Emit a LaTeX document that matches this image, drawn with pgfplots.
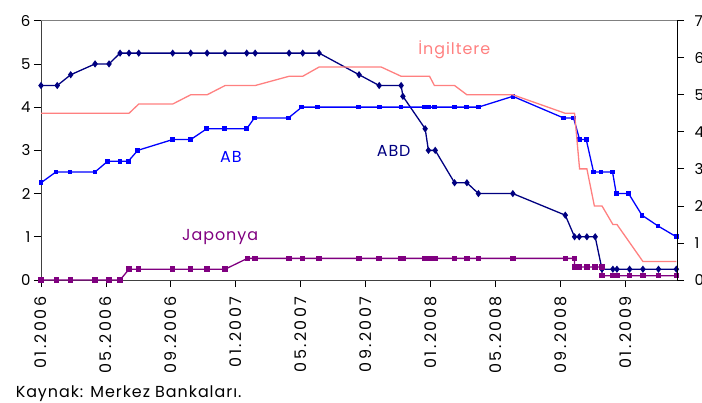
\documentclass[border=0pt]{standalone}
\usepackage{pgfplots}
\pgfplotsset{compat=1.18}
\usepackage{fontspec}
\setmainfont{Poppins}
\newfontfamily\widefont[LetterSpace=15]{Poppins}
\newfontfamily\labelfont[LetterSpace=6]{Poppins}

\definecolor{abd}{HTML}{000080}
\definecolor{ab}{HTML}{0000FF}
\definecolor{uk}{HTML}{FF8080}
\definecolor{jp}{HTML}{800080}

\pgfplotsset{
  ratestyle/.style={
    scale only axis, width=636bp, height=259.3bp,
    at={(0,0)}, anchor=south west,
    xmin=0, xmax=39.17,
    tick align=outside, major tick length=7bp,
    tick style={black, line width=0.8pt},
    axis line style={black!75, line width=0.8pt},
    /pgf/number format/assume math mode=true,
    tick label style={font=\fontsize{15}{18}\selectfont},
  },
}

\begin{document}
\begin{tikzpicture}
% left axis: ABD, AB, Japonya
\begin{axis}[ratestyle,
    axis x line*=bottom, axis y line*=left,
    ymin=0, ymax=6, ytick={0,1,...,6},
    xtick={0,4,8,12,16,20,24,28,32,36},
    xticklabels={01.2006,05.2006,09.2006,01.2007,05.2007,09.2007,01.2008,05.2008,09.2008,01.2009},
    xticklabel style={rotate=90, anchor=east, xshift=-6bp,
      font=\widefont\fontsize{16}{19}\selectfont},
    clip=false,
]
\draw[gray, line width=0.8pt] (rel axis cs:0,1) -- (rel axis cs:1,1);

% ABD
\addplot[abd, line width=1.3pt, mark=diamond*, mark size=2.6bp] coordinates {
(0,4.5)(1.00,4.5)(1.83,4.75)(3.33,5.0)(4.19,5.0)(4.87,5.25)(5.42,5.25)(6.02,5.25)
(8.11,5.25)(9.22,5.25)(10.23,5.25)(11.34,5.25)(12.67,5.25)(13.19,5.25)(15.28,5.25)
(16.12,5.25)(17.13,5.25)(19.59,4.75)(20.83,4.5)(22.18,4.5)(22.29,4.25)(23.66,3.5)
(23.86,3.0)(24.28,3.0)(25.47,2.25)(26.23,2.25)(26.94,2.0)(29.06,2.0)(32.29,1.5)
(32.86,1.0)(33.15,1.0)(33.62,1.0)(34.13,1.0)(34.55,0.25)(35.22,0.25)(35.47,0.25)
(36.25,0.25)(37.07,0.25)(38.03,0.25)(39.13,0.25)
};

% AB
\addplot[ab, line width=1.3pt, mark=square*, mark size=1.7bp] coordinates {
(0,2.25)(0.92,2.5)(1.79,2.5)(3.33,2.5)(4.11,2.75)(4.87,2.75)(5.38,2.75)(5.96,3.0)
(8.11,3.25)(9.22,3.25)(10.21,3.5)(11.28,3.5)(12.67,3.5)(13.14,3.75)(15.24,3.75)
(16.06,4.0)(17.05,4.0)(19.55,4.0)(20.83,4.0)(22.18,4.0)(23.62,4.0)(23.86,4.0)
(24.23,4.0)(25.45,4.0)(26.19,4.0)(26.94,4.0)(29.06,4.25)(32.18,3.75)(32.80,3.75)
(33.17,3.25)(33.58,3.25)(34.03,2.5)(34.49,2.5)(35.20,2.5)(35.43,2.0)(36.19,2.0)
(37.01,1.5)(38.00,1.25)(39.13,1.0)
};

% Japonya
\addplot[jp, line width=1.3pt, mark=square*, mark size=2.1bp] coordinates {
(0,0)(0.96,0)(1.83,0)(3.33,0)(4.19,0)(4.87,0)(5.42,0.25)(6.02,0.25)(8.11,0.25)
(9.22,0.25)(10.23,0.25)(11.34,0.25)(12.71,0.5)(13.19,0.5)(15.28,0.5)(16.12,0.5)
(17.13,0.5)(19.59,0.5)(20.83,0.5)(22.18,0.5)(22.29,0.5)(23.62,0.5)(23.81,0.5)
(23.93,0.5)(24.28,0.5)(25.47,0.5)(26.23,0.5)(26.94,0.5)(29.06,0.5)(32.29,0.5)
(32.86,0.5)(32.86,0.3)(33.15,0.3)(33.62,0.3)(34.13,0.3)(34.55,0.3)(34.55,0.1)
(35.22,0.1)(35.47,0.1)(36.25,0.1)(37.07,0.1)(38.03,0.1)(39.13,0.1)
};

\node[uk, font=\labelfont\fontsize{16}{19}\selectfont] at (axis cs:25.45,5.33) {İngiltere};
\node[ab, font=\labelfont\fontsize{16}{19}\selectfont] at (axis cs:11.7,2.84) {AB};
\node[abd, font=\labelfont\fontsize{16}{19}\selectfont] at (axis cs:21.72,2.98) {ABD};
\node[jp, font=\labelfont\fontsize{16}{19}\selectfont] at (axis cs:11.03,1.0) {Japonya};
\node[anchor=base west, font=\labelfont\fontsize{16}{19}\selectfont, inner sep=0pt]
  at (rel axis cs:-0.04,-0.452) {Kaynak: Merkez Bankaları.};
\end{axis}

% right axis: Ingiltere
\begin{axis}[ratestyle,
    axis x line=none, axis y line*=right,
    axis line style={black, line width=0.8pt},
    ymin=0, ymax=7, ytick={0,1,...,7},
    yticklabel style={xshift=7bp},
]
\addplot[uk, line width=1.3pt, mark=none] coordinates {
(0,4.5)(5.42,4.5)(6.02,4.75)(8.11,4.75)(9.22,5.0)(10.23,5.0)(11.34,5.25)(13.19,5.25)
(15.28,5.5)(16.12,5.5)(17.13,5.75)(20.95,5.75)(22.18,5.5)(23.93,5.5)(24.23,5.25)
(25.47,5.25)(26.23,5.0)(29.06,5.0)(32.29,4.5)(32.86,4.5)(33.17,3.0)(33.62,3.0)
(34.08,2.0)(34.55,2.0)(35.22,1.5)(35.47,1.5)(37.07,0.5)(39.13,0.5)
};
\end{axis}

\pgfresetboundingbox
\useasboundingbox (-41bp,-123bp) rectangle (661bp,280bp);
\end{tikzpicture}
\end{document}
